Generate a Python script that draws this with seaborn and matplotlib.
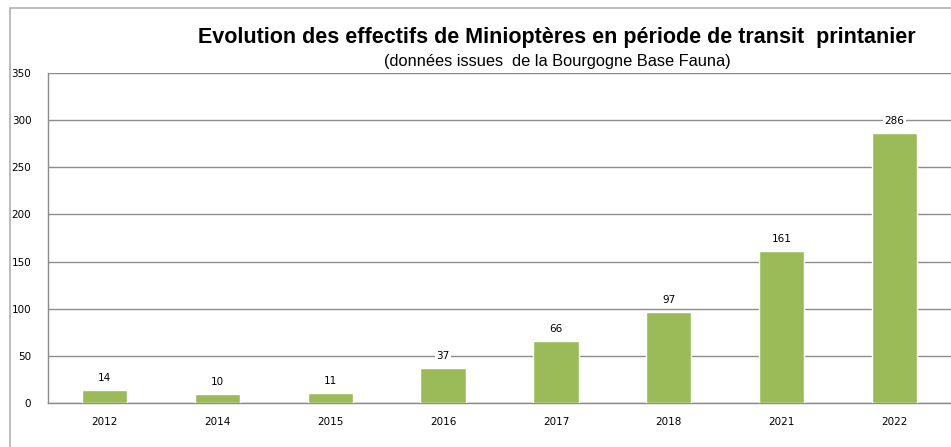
import pandas as pd
import matplotlib.pyplot as plt
import seaborn as sns
from matplotlib.patches import Rectangle

years = ["2012", "2014", "2015", "2016", "2017", "2018", "2021", "2022"]
counts = [14, 10, 11, 37, 66, 97, 161, 286]

df = pd.DataFrame({"Année": years, "Effectif": counts})

sns.set_style("white")
plt.rcParams['font.family'] = ['DejaVu Sans']

fig = plt.figure(figsize=(9.51, 4.47), dpi=100)
ax = fig.add_axes([48 / 951, 44 / 447, 903 / 951, 330 / 447])

sns.barplot(x="Année", y="Effectif", data=df, color="#9BBB59", width=0.4,
            saturation=1, ax=ax, zorder=3)

ax.set_ylim(0, 350)
ax.set_yticks(range(0, 351, 50))
ax.yaxis.grid(True, color="#8c8c8c", linewidth=1, zorder=0)
ax.set_xlabel("")
ax.set_ylabel("")
ax.tick_params(axis="both", labelsize=7.5, length=0, colors="black")
ax.tick_params(axis="x", pad=10)
ax.tick_params(axis="y", pad=12)
for side in ["top", "right"]:
    ax.spines[side].set_visible(False)
for side in ["left", "bottom"]:
    ax.spines[side].set_color("#8c8c8c")
    ax.spines[side].set_linewidth(1)

for container in ax.containers:
    labels = ax.bar_label(container, padding=5, fontsize=7.5, color="black", zorder=4)
    for t in labels:
        t.set_bbox(dict(facecolor="white", edgecolor="none", pad=1))

fig.text(0.586, 0.917, "Evolution des effectifs de Miniopt\u00e8res en p\u00e9riode de transit  printanier",
         ha="center", va="center", fontsize=15.5, fontweight="bold", color="black",
         family=["Liberation Sans", "DejaVu Sans"])
fig.text(0.586, 0.862, "(donn\u00e9es issues  de la Bourgogne Base Fauna)",
         ha="center", va="center", fontsize=11.8, color="black",
         family=["Liberation Sans", "DejaVu Sans"])

fig.patches.append(Rectangle((10 / 951, -0.01), 1.0, 1 - 8 / 447 + 0.01,
                             transform=fig.transFigure, fill=False,
                             edgecolor="#b0b0b0", linewidth=1.2))

fig.savefig("out.png", dpi=100)
